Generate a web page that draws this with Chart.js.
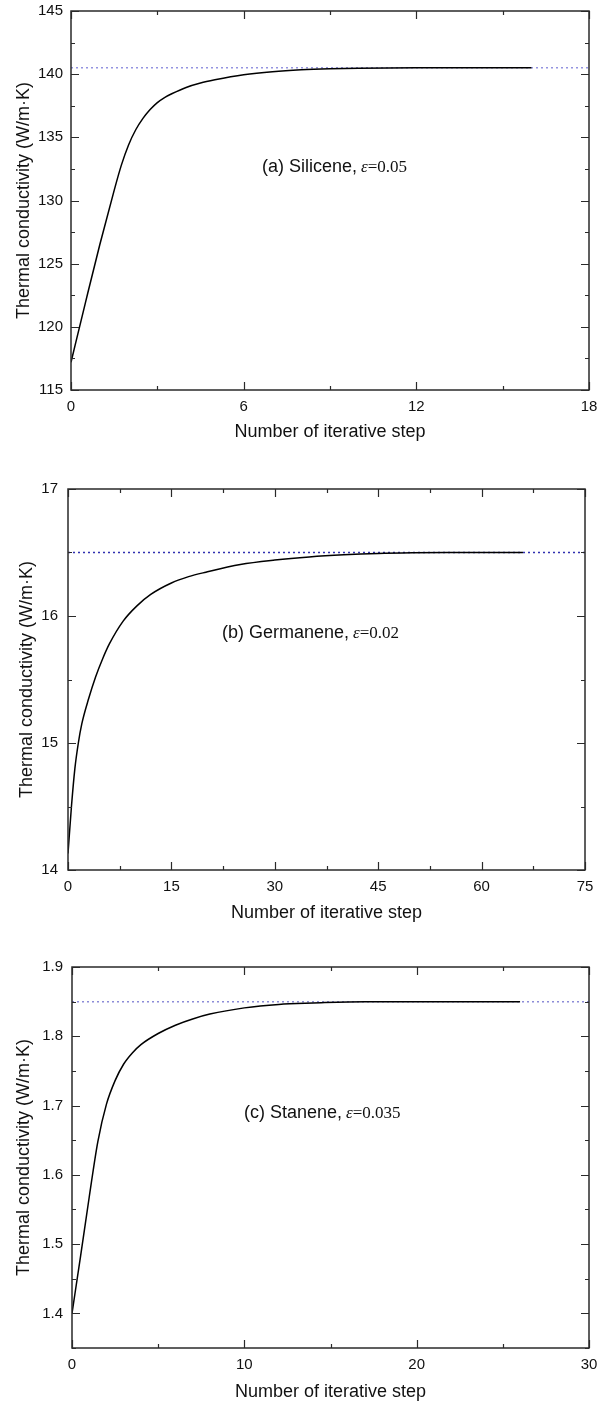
<!DOCTYPE html>
<html>
<head>
<meta charset="utf-8">
<script src="https://cdn.jsdelivr.net/npm/chart.js@4/dist/chart.umd.min.js"></script>
<style>
  body { margin: 0; background: #fff; }
  canvas { position: absolute; left: 0; }
</style>
</head>
<body>
<canvas id="chartA" width="600" height="465" style="top:0"></canvas>
<canvas id="chartB" width="600" height="475" style="top:465px"></canvas>
<canvas id="chartC" width="600" height="467" style="top:940px"></canvas>
<script>
// (a) Silicene
const siliceneSteps = [0, 0.5, 1, 1.5, 1.75, 2, 2.25, 2.5, 2.75, 3, 3.25, 3.5, 4, 4.5, 5, 6, 7, 8, 9, 10, 12, 16];
const siliceneK = [117.2, 121.9, 126.5, 130.8, 132.8, 134.4, 135.6, 136.5, 137.2, 137.75, 138.15, 138.45, 138.95, 139.3, 139.55, 139.95, 140.2, 140.35, 140.43, 140.47, 140.5, 140.5];
const siliceneLimit = 140.5;
const siliceneXTicks = [0, 6, 12, 18];
const siliceneXMinor = [3, 9, 15];
const siliceneYTicks = [115, 120, 125, 130, 135, 140, 145];
const siliceneYMinor = [117.5, 122.5, 127.5, 132.5, 137.5, 142.5];

// (b) Germanene
const germaneneSteps = [0, 0.5, 1, 1.5, 2, 3, 4, 5, 6, 8, 10, 12, 15, 17.5, 20, 25, 30, 35, 40, 45, 50, 55, 66];
const germaneneK = [14.13, 14.5, 14.8, 15.0, 15.15, 15.35, 15.52, 15.66, 15.78, 15.96, 16.08, 16.17, 16.26, 16.31, 16.345, 16.405, 16.44, 16.465, 16.482, 16.493, 16.498, 16.5, 16.5];
const germaneneLimit = 16.5;
const germaneneXTicks = [0, 15, 30, 45, 60, 75];
const germaneneXMinor = [7.5, 22.5, 37.5, 52.5, 67.5];
const germaneneYTicks = [14, 15, 16, 17];
const germaneneYMinor = [14.5, 15.5, 16.5];

// (c) Stanene
const staneneSteps = [0, 0.5, 1, 1.5, 2, 2.5, 3, 3.5, 4, 5, 6, 7, 8, 10, 12, 14, 17, 20, 26];
const staneneK = [1.40, 1.483, 1.568, 1.648, 1.702, 1.736, 1.760, 1.776, 1.788, 1.804, 1.816, 1.825, 1.832, 1.841, 1.846, 1.848, 1.85, 1.85, 1.85];
const staneneLimit = 1.85;
const staneneXTicks = [0, 10, 20, 30];
const staneneXMinor = [5, 15, 25];
const staneneYTicks = [1.4, 1.5, 1.6, 1.7, 1.8, 1.9];
const staneneYMinor = [1.35, 1.45, 1.55, 1.65, 1.75, 1.85];

const sans = "'Liberation Sans', Arial, sans-serif";
const serif = "'Liberation Serif', 'Times New Roman', serif";

// frame + inward ticks on all four sides (like Origin plots)
const frameTicks = {
  id: 'frameTicks',
  afterDatasetsDraw(chart, args, opts) {
    const {ctx, chartArea: a, scales: {x, y}} = chart;
    ctx.save();
    ctx.strokeStyle = '#2a2a2a';
    ctx.lineWidth = 1.5;
    ctx.strokeRect(a.left, a.top, a.right - a.left, a.bottom - a.top);
    ctx.lineWidth = 1.2;
    const major = 8, minor = 4;
    ctx.beginPath();
    const xt = (v, len) => {
      const px = Math.round(x.getPixelForValue(v)) + 0.5;
      ctx.moveTo(px, a.bottom); ctx.lineTo(px, a.bottom - len);
      ctx.moveTo(px, a.top); ctx.lineTo(px, a.top + len);
    };
    const yt = (v, len) => {
      const py = Math.round(y.getPixelForValue(v)) + 0.5;
      ctx.moveTo(a.left, py); ctx.lineTo(a.left + len, py);
      ctx.moveTo(a.right, py); ctx.lineTo(a.right - len, py);
    };
    opts.xMajor.forEach(v => xt(v, major));
    opts.xMinor.forEach(v => xt(v, minor));
    opts.yMajor.forEach(v => yt(v, major));
    opts.yMinor.forEach(v => yt(v, minor));
    ctx.stroke();
    ctx.restore();
  }
};

// "(a) Silicene, ε=0.05" style label
const panelLabel = {
  id: 'panelLabel',
  afterDraw(chart, args, opts) {
    const ctx = chart.ctx;
    ctx.save();
    ctx.fillStyle = '#111';
    ctx.textBaseline = 'alphabetic';
    let x = opts.x;
    ctx.font = '18px ' + sans;
    ctx.fillText(opts.name, x, opts.y);
    x += ctx.measureText(opts.name).width + 4;
    ctx.font = 'italic 17px ' + serif;
    ctx.fillText('\u03b5', x, opts.y);
    x += ctx.measureText('\u03b5').width;
    ctx.font = '17px ' + serif;
    ctx.fillText('=' + opts.eps, x, opts.y);
    ctx.restore();
  }
};

function makeChart(id, cfg) {
  const fixTicks = vals => axis => { axis.ticks = vals.map(v => ({value: v})); };
  return new Chart(document.getElementById(id), {
    type: 'line',
    data: {
      datasets: [{
        data: cfg.steps.map((s, i) => ({x: s, y: cfg.k[i]})),
        borderColor: '#000',
        borderWidth: 1.5,
        pointRadius: 0,
        cubicInterpolationMode: 'monotone'
      }, {
        data: [{x: cfg.xTicks[0], y: cfg.limit}, {x: cfg.xTicks[cfg.xTicks.length - 1], y: cfg.limit}],
        borderColor: cfg.limitColor,
        borderWidth: 1.5,
        borderDash: [2, 3],
        pointRadius: 0
      }]
    },
    options: {
      responsive: false,
      animation: false,
      events: [],
      layout: {padding: cfg.pad},
      plugins: {
        legend: {display: false},
        tooltip: {enabled: false},
        frameTicks: {xMajor: cfg.xTicks, xMinor: cfg.xMinor, yMajor: cfg.yTicks, yMinor: cfg.yMinor},
        panelLabel: cfg.label
      },
      scales: {
        x: {
          type: 'linear',
          min: cfg.xTicks[0],
          max: cfg.xTicks[cfg.xTicks.length - 1],
          afterBuildTicks: fixTicks(cfg.xTicks),
          afterFit: s => { s.height = cfg.xHeight; s.paddingLeft = 0; s.paddingRight = 0; },
          grid: {display: false, drawTicks: false},
          border: {display: false},
          ticks: {color: '#111', font: {family: sans, size: 15}, padding: cfg.xTickPad, maxRotation: 0},
          title: {display: true, text: 'Number of iterative step', color: '#111',
                  font: {family: sans, size: 18}, padding: {top: 0, bottom: cfg.xTitlePad}}
        },
        y: {
          min: cfg.yMin,
          max: cfg.yTicks[cfg.yTicks.length - 1],
          afterBuildTicks: fixTicks(cfg.yTicks),
          afterFit: s => { s.width = cfg.yWidth; s.paddingTop = 0; s.paddingBottom = 0; },
          grid: {display: false, drawTicks: false},
          border: {display: false},
          ticks: {color: '#111', font: {family: sans, size: 15}, padding: cfg.yTickPad,
                  callback: v => v.toFixed(cfg.dec)},
          title: {display: true, text: 'Thermal conductivity (W/m\u00b7K)', color: '#111',
                  font: {family: sans, size: 18}, padding: {top: cfg.yTitlePad, bottom: 0}}
        }
      }
    },
    plugins: [frameTicks, panelLabel]
  });
}

makeChart('chartA', {
  steps: siliceneSteps, k: siliceneK, limit: siliceneLimit, limitColor: '#9494e0',
  xTicks: siliceneXTicks, xMinor: siliceneXMinor, yTicks: siliceneYTicks, yMinor: siliceneYMinor,
  yMin: 115, dec: 0,
  pad: {top: 11, right: 11, left: 0, bottom: 0},
  xHeight: 75, yWidth: 71, xTickPad: 8, xTitlePad: 22, yTickPad: 8, yTitlePad: 13,
  label: {x: 262, y: 172, name: '(a) Silicene,', eps: '0.05'}
});

makeChart('chartB', {
  steps: germaneneSteps, k: germaneneK, limit: germaneneLimit, limitColor: '#3030b0',
  xTicks: germaneneXTicks, xMinor: germaneneXMinor, yTicks: germaneneYTicks, yMinor: germaneneYMinor,
  yMin: 14, dec: 0,
  pad: {top: 24, right: 15, left: 0, bottom: 0},
  xHeight: 70, yWidth: 68, xTickPad: 8, xTitlePad: 16, yTickPad: 10, yTitlePad: 16,
  label: {x: 222, y: 173, name: '(b) Germanene,', eps: '0.02'}
});

makeChart('chartC', {
  steps: staneneSteps, k: staneneK, limit: staneneLimit, limitColor: '#8c8cd8',
  xTicks: staneneXTicks, xMinor: staneneXMinor, yTicks: staneneYTicks, yMinor: staneneYMinor,
  yMin: 1.35, dec: 1,
  pad: {top: 27, right: 11, left: 0, bottom: 0},
  xHeight: 59, yWidth: 72, xTickPad: 8, xTitlePad: 4, yTickPad: 9, yTitlePad: 13,
  label: {x: 244, y: 178, name: '(c) Stanene,', eps: '0.035'}
});
</script>
</body>
</html>
